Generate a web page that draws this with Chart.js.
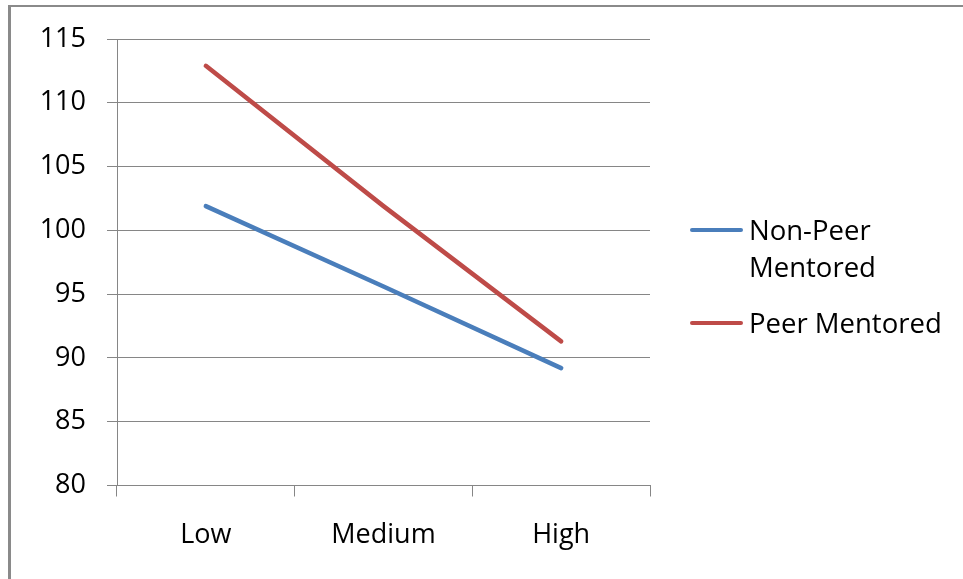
<!DOCTYPE html>
<html>
<head>
<meta charset="utf-8">
<script src="https://cdn.jsdelivr.net/npm/chart.js@4.4.1/dist/chart.umd.min.js"></script>
<style>
  html, body { margin: 0; padding: 0; background: #fff; overflow: hidden; }
  #wrap { position: relative; width: 963px; height: 579px; overflow: hidden; }
  #frame { position: absolute; left: 8px; top: 5px; width: 2000px; height: 2000px;
           border-left: 3px solid #8a8a8a; border-top: 2px solid #8a8a8a; box-sizing: border-box; }
  canvas { position: absolute; left: 0; top: 0; display: block; }
  #legend { position: absolute; left: 690px; top: 0; font-family: "Open Sans", sans-serif;
            font-size: 27.5px; color: #000; }
  .item { position: absolute; left: 0; display: flex; align-items: flex-start; }
  .sw { width: 53px; height: 4px; border-radius: 2px; margin-top: 17px; margin-right: 6px; flex: none; }
  .txt { width: 205px; line-height: 37.5px; }
</style>
</head>
<body>
<div id="wrap">
  <div id="frame"></div>
  <canvas id="c" width="963" height="579"></canvas>
  <div id="legend"></div>
</div>
<script>
const categories = ['Low', 'Medium', 'High'];
const nonPeerMentored = [101.9, 95.6, 89.2];
const peerMentored = [112.9, 101.9, 91.3];
const seriesNames = ['Non-Peer Mentored', 'Peer Mentored'];
const yMin = 80, yMax = 115, yStep = 5;

const FONT = "'Open Sans', sans-serif";
const GRID = '#868686';

const htmlLegend = {
  id: 'htmlLegend',
  afterUpdate(chart) {
    const box = document.getElementById('legend');
    box.innerHTML = '';
    const tops = [210.75, 303.75];
    chart.data.datasets.forEach((ds, i) => {
      const it = document.createElement('div');
      it.className = 'item';
      it.style.top = tops[i] + 'px';
      const sw = document.createElement('div');
      sw.className = 'sw';
      sw.style.background = ds.borderColor;
      const tx = document.createElement('div');
      tx.className = 'txt';
      tx.textContent = ds.label;
      it.appendChild(sw); it.appendChild(tx);
      box.appendChild(it);
    });
  }
};

new Chart(document.getElementById('c'), {
  type: 'line',
  data: {
    labels: categories,
    datasets: [
      { label: seriesNames[0], data: nonPeerMentored, borderColor: '#4A7EBB', backgroundColor: '#4A7EBB',
        borderWidth: 4.5, pointRadius: 0, tension: 0, borderCapStyle: 'round' },
      { label: seriesNames[1], data: peerMentored, borderColor: '#BE4B48', backgroundColor: '#BE4B48',
        borderWidth: 4.5, pointRadius: 0, tension: 0, borderCapStyle: 'round' }
    ]
  },
  options: {
    responsive: false,
    animation: false,
    events: [],
    layout: { padding: { left: 0, right: 313, top: 39, bottom: 0 } },
    plugins: { legend: { display: false }, tooltip: { enabled: false } },
    scales: {
      x: {
        offset: true,
        grid: { offset: true, drawOnChartArea: false, drawTicks: true, tickLength: 11, color: GRID, lineWidth: 1 },
        border: { display: true, color: GRID, width: 1 },
        ticks: { font: { family: FONT, size: 27 }, color: '#000', padding: 23, maxRotation: 0 },
        afterFit(s) { s.height = 93.5; }
      },
      y: {
        min: yMin, max: yMax,
        grid: { color: GRID, lineWidth: 1, tickLength: 10 },
        border: { display: true, color: GRID, width: 1 },
        ticks: { stepSize: yStep, font: { family: FONT, size: 27 }, color: '#000', padding: 21 },
        afterFit(s) { s.width = 117; }
      }
    }
  },
  plugins: [htmlLegend]
});
</script>
</body>
</html>
